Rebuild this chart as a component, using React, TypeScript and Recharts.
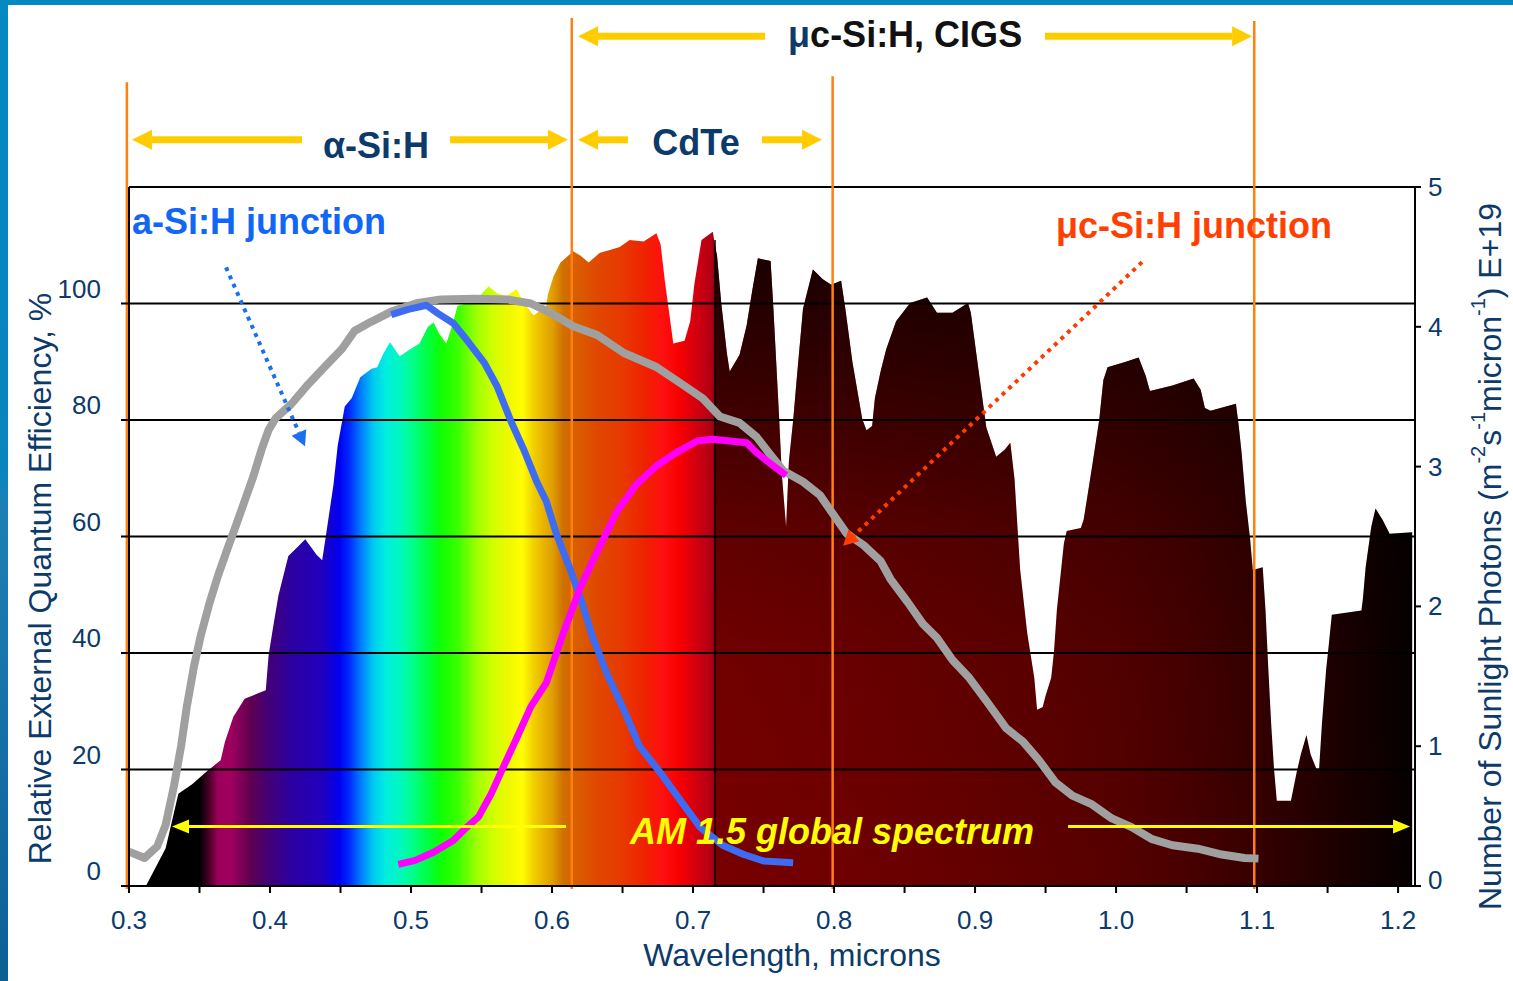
import React from 'react';
import { ComposedChart, Area, Line, XAxis, YAxis, ReferenceLine, ReferenceDot } from 'recharts';

// AM 1.5 global spectrum, photons E+19 (right axis)
const spectrumWl = [
  0.312, 0.326, 0.335, 0.345, 0.354, 0.365, 0.368, 0.374, 0.382, 0.392, 0.397, 0.399, 0.402, 0.406,
  0.413, 0.419, 0.425, 0.433, 0.437, 0.44, 0.445, 0.448, 0.453, 0.458, 0.464, 0.472, 0.476, 0.48,
  0.485, 0.492, 0.498, 0.506, 0.512, 0.516, 0.52, 0.525, 0.529, 0.533, 0.545, 0.555, 0.561, 0.568,
  0.575, 0.58, 0.587, 0.596, 0.597, 0.601, 0.606, 0.615, 0.62, 0.626, 0.634, 0.641, 0.648, 0.655,
  0.665, 0.674, 0.677, 0.68, 0.686, 0.694, 0.698, 0.701, 0.706, 0.714, 0.7156, 0.717, 0.72, 0.724,
  0.726, 0.733, 0.738, 0.742, 0.746, 0.755, 0.757, 0.761, 0.763, 0.766, 0.768, 0.771, 0.774, 0.778,
  0.785, 0.792, 0.798, 0.805, 0.808, 0.813, 0.82, 0.823, 0.827, 0.829, 0.833, 0.837, 0.844, 0.854,
  0.866, 0.873, 0.884, 0.895, 0.897, 0.903, 0.908, 0.915, 0.921, 0.925, 0.928, 0.93, 0.932, 0.937,
  0.942, 0.944, 0.948, 0.95, 0.954, 0.956, 0.958, 0.963, 0.965, 0.975, 0.977, 0.98, 0.983, 0.988,
  0.991, 0.994, 1.007, 1.016, 1.021, 1.024, 1.04, 1.055, 1.06, 1.063, 1.067, 1.085, 1.087, 1.089,
  1.092, 1.095, 1.097, 1.104, 1.106, 1.108, 1.11, 1.112, 1.114, 1.124, 1.128, 1.131, 1.135, 1.138,
  1.142, 1.144, 1.146, 1.149, 1.151, 1.153, 1.174, 1.175, 1.177, 1.181, 1.184, 1.189, 1.194, 1.21,
];
const spectrumFlux = [
  0, 0.27, 0.66, 0.73, 0.81, 0.9, 1.03, 1.21, 1.34, 1.38, 1.4, 1.65, 1.84, 2.08,
  2.36, 2.42, 2.48, 2.37, 2.33, 2.53, 2.87, 3.15, 3.43, 3.49, 3.64, 3.7, 3.71, 3.8,
  3.89, 3.79, 3.83, 3.88, 4.0, 4.03, 3.95, 3.88, 4.0, 4.15, 4.18, 4.29, 4.24, 4.22,
  4.27, 4.17, 4.08, 4.15, 4.23, 4.36, 4.46, 4.54, 4.51, 4.46, 4.53, 4.55, 4.57, 4.62,
  4.61, 4.67, 4.59, 4.33, 3.88, 3.9, 4.04, 4.31, 4.62, 4.68, 4.58, 4.51, 4.17, 3.81,
  3.68, 3.8, 4.01, 4.26, 4.49, 4.47, 4.13, 3.36, 2.94, 2.57, 3.04, 3.33, 3.68, 4.13,
  4.41, 4.34, 4.3, 4.33, 4.13, 3.75, 3.34, 3.26, 3.29, 3.49, 3.68, 3.84, 4.04, 4.17,
  4.21, 4.1, 4.1, 4.17, 4.1, 3.65, 3.28, 3.07, 3.12, 3.17, 2.91, 2.58, 2.26, 1.81,
  1.49, 1.26, 1.28, 1.36, 1.49, 1.68, 1.97, 2.45, 2.54, 2.56, 2.62, 2.81, 3.0, 3.33,
  3.62, 3.71, 3.75, 3.78, 3.65, 3.54, 3.58, 3.63, 3.55, 3.42, 3.4, 3.45, 3.29, 3.1,
  2.75, 2.49, 2.26, 2.28, 1.97, 1.55, 1.16, 0.84, 0.61, 0.61, 0.81, 0.94, 1.08, 0.94,
  0.84, 0.84, 1.16, 1.55, 1.74, 1.94, 1.97, 2.05, 2.28, 2.57, 2.7, 2.62, 2.52, 2.53,
];

// overall relative EQE, % (gray)
const totalWl = [
  0.3, 0.311, 0.32, 0.326, 0.332, 0.337, 0.341, 0.346, 0.351, 0.357, 0.363, 0.37, 0.376, 0.382,
  0.388, 0.394, 0.399, 0.404, 0.415, 0.427, 0.439, 0.451, 0.46, 0.472, 0.486, 0.505, 0.521, 0.545,
  0.568, 0.585, 0.599, 0.615, 0.632, 0.651, 0.674, 0.693, 0.707, 0.719, 0.733, 0.745, 0.755, 0.764,
  0.778, 0.79, 0.8, 0.809, 0.821, 0.833, 0.84, 0.852, 0.863, 0.873, 0.884, 0.896, 0.908, 0.922,
  0.934, 0.945, 0.957, 0.969, 0.983, 0.997, 1.011, 1.025, 1.04, 1.058, 1.075, 1.091, 1.101,
];
const totalEqe = [
  5.9, 4.8, 6.8, 10.5, 17.3, 24.1, 30.8, 37.6, 43.1, 48.5, 53.2, 58, 62, 66.1,
  70.2, 74.9, 78.3, 80.3, 82.7, 86.1, 89.2, 92.2, 95.3, 96.9, 98.6, 100.1, 100.7, 100.8,
  100.7, 100, 98.4, 96.1, 94.6, 91.5, 89.1, 86, 83.7, 80.6, 79.5, 77.1, 74, 71.3,
  69.4, 67.1, 63.6, 60.5, 58.5, 55.8, 52.7, 48.8, 45, 42.6, 38.8, 35.7, 31.8, 27.1,
  24.8, 21.7, 17.8, 15.5, 14, 11.6, 10.1, 8.1, 7, 6.4, 5.4, 4.8, 4.7,
];

// a-Si:H junction (blue)
const aSiWl = [
  0.486, 0.498, 0.511, 0.519, 0.53, 0.54, 0.552, 0.561, 0.571, 0.58, 0.589, 0.596, 0.603, 0.613,
  0.62, 0.629, 0.639, 0.651, 0.662, 0.677, 0.691, 0.705, 0.721, 0.736, 0.75, 0.771,
];
const aSiEqe = [
  98.1, 99, 99.7, 98.3, 96.6, 93.6, 89.8, 85.8, 79.7, 74.9, 69.5, 66, 60.5, 54.3,
  49.6, 42.6, 36.4, 30.2, 24, 19.4, 14.7, 10.1, 7, 5.4, 4.3, 4,
];

// uc-Si:H junction (magenta)
const ucSiWl = [
  0.491, 0.503, 0.516, 0.53, 0.54, 0.548, 0.557, 0.566, 0.575, 0.585, 0.596, 0.608, 0.62, 0.632,
  0.646, 0.66, 0.674, 0.688, 0.703, 0.714, 0.738, 0.745, 0.755, 0.766,
];
const ucSiEqe = [
  3.7, 4.4, 5.8, 7.8, 10.2, 11.9, 15.9, 20.7, 25.4, 30.8, 34.9, 43.4, 51.2, 57.4,
  64.3, 69, 72.1, 74.4, 76.4, 76.7, 76.1, 74.4, 72.5, 70.5,
];

const xTicks = [0.3, 0.35, 0.4, 0.45, 0.5, 0.55, 0.6, 0.65, 0.7, 0.75, 0.8, 0.85, 0.9, 0.95, 1.0, 1.05, 1.1, 1.15, 1.2];
const eqeTicks = [0, 20, 40, 60, 80, 100];
const photonTicks = [0, 1, 2, 3, 4, 5];
const gridLevels = [20, 40, 60, 80, 100, 120];

// absorber band limits (microns) and how high their marker lines reach
const bandEdges = [0.2985, 0.614, 0.799, 1.098];
const bandTops = [138, 149, 139, 148.5];

// colour of the spectrum at each wavelength
const spectrumColors: [number, string][] = [
  [0.312, '#000000'], [0.35, '#000000'], [0.356, '#400020'], [0.363, '#9a005a'], [0.372, '#a00060'],
  [0.386, '#600050'], [0.398, '#440074'], [0.415, '#2c00a0'], [0.438, '#2000c0'], [0.449, '#0000f0'],
  [0.456, '#0028ff'], [0.464, '#0078ff'], [0.473, '#00c8f0'], [0.482, '#00eee0'], [0.492, '#00f8c0'],
  [0.5, '#00ff90'], [0.512, '#00ff40'], [0.522, '#10ff00'], [0.534, '#40ff00'], [0.547, '#a0ff00'],
  [0.558, '#d0ff00'], [0.57, '#f0f800'], [0.579, '#ffff00'], [0.587, '#f0d000'], [0.595, '#e8b000'],
  [0.6, '#e0a000'], [0.608, '#d07000'], [0.616, '#d86000'], [0.632, '#e04800'], [0.651, '#e83800'],
  [0.667, '#f02000'], [0.678, '#ff1010'], [0.69, '#f80000'], [0.703, '#d00010'], [0.713, '#b00014'],
  [0.7155, '#900008'], [0.7165, '#780000'], [0.8, '#700000'], [0.9, '#640000'], [1.0, '#560000'],
  [1.05, '#480000'], [1.1, '#360000'], [1.15, '#200000'], [1.21, '#050000'],
];

const NAVY = '#0c3a6b';
const FONT = '"Liberation Sans", Arial, sans-serif';

const pts = (xs: number[], ys: number[]) => xs.map((x, i) => ({ x, y: ys[i] }));
const spectrumData = pts(spectrumWl, spectrumFlux);
const nirData = spectrumData.filter((d) => d.x >= 0.7156);
const wlMin = spectrumWl[0];
const wlMax = spectrumWl[spectrumWl.length - 1];

const arrowShape =
  (color: string, width: number, head: number, half: number, dash?: string) => (p: any) => {
    const { x1, y1, x2, y2 } = p;
    const len = Math.hypot(x2 - x1, y2 - y1) || 1;
    const ux = (x2 - x1) / len;
    const uy = (y2 - y1) / len;
    const bx = x2 - ux * head;
    const by = y2 - uy * head;
    return (
      <g>
        <line x1={x1} y1={y1} x2={bx} y2={by} stroke={color} strokeWidth={width} strokeDasharray={dash} />
        <polygon
          points={`${x2},${y2} ${bx - uy * half},${by + ux * half} ${bx + uy * half},${by - ux * half}`}
          fill={color}
        />
      </g>
    );
  };

const textShape =
  (content: React.ReactNode, anchor: 'start' | 'middle', color: string, extra: any = {}) => (p: any) =>
    (
      <text
        x={p.cx}
        y={p.cy}
        textAnchor={anchor}
        dominantBaseline="central"
        fill={color}
        fontFamily={FONT}
        fontWeight="bold"
        fontSize={36}
        {...extra}
      >
        {content}
      </text>
    );

const bigArrow = arrowShape('#ffcc00', 7, 20, 10);
const thinArrow = arrowShape('#ffff00', 3, 17, 7);

const arrows = [
  { from: [0.4227, 128.1], to: [0.3021, 128.1], shape: bigArrow },
  { from: [0.5277, 128.1], to: [0.6113, 128.1], shape: bigArrow },
  { from: [0.6539, 128.1], to: [0.6184, 128.1], shape: bigArrow },
  { from: [0.7489, 128.1], to: [0.7915, 128.1], shape: bigArrow },
  { from: [0.7511, 145.9], to: [0.6184, 145.9], shape: bigArrow },
  { from: [0.9496, 145.9], to: [1.0965, 145.9], shape: bigArrow },
  { from: [0.6099, 10.2], to: [0.3305, 10.2], shape: thinArrow },
  { from: [0.966, 10.2], to: [1.2085, 10.2], shape: thinArrow },
  { from: [0.3688, 106.2], to: [0.4248, 75.5], shape: arrowShape('#1a6ff0', 4, 15, 8, '4 5') },
  { from: [1.0184, 107.1], to: [0.8064, 58.4], shape: arrowShape('#ff3c00', 4, 15, 8, '4 5') },
];

const LeftTick = (p: any) => (
  <text x={p.x} y={p.y - 15} textAnchor="end" dominantBaseline="central" fill={NAVY} fontSize={26} fontFamily={FONT}>
    {p.payload.value}
  </text>
);

const RightTick = (p: any) => (
  <text
    x={p.x}
    y={p.y - (p.payload.value === 0 ? 6 : 0)}
    textAnchor="start"
    dominantBaseline="central"
    fill={NAVY}
    fontSize={26}
    fontFamily={FONT}
  >
    {p.payload.value}
  </text>
);

const XTitle = (p: any) => {
  const vb = p.viewBox;
  return (
    <text x={vb.x + vb.width / 2 + 20} y={vb.y + 69} textAnchor="middle" dominantBaseline="central" fill={NAVY} fontSize={32} fontFamily={FONT}>
      Wavelength, microns
    </text>
  );
};

const LeftTitle = (p: any) => {
  const vb = p.viewBox;
  const cx = vb.x - 19;
  const cy = vb.y + vb.height / 2 + 42;
  return (
    <text x={cx} y={cy} transform={`rotate(-90, ${cx}, ${cy})`} textAnchor="middle" dominantBaseline="central" fill={NAVY} fontSize={32} fontFamily={FONT}>
      Relative External Quantum Efficiency, %
    </text>
  );
};

const RightTitle = (p: any) => {
  const vb = p.viewBox;
  const cx = vb.x + 75;
  const cy = vb.y + vb.height / 2 + 20;
  return (
    <text x={cx} y={cy} transform={`rotate(-90, ${cx}, ${cy})`} textAnchor="middle" dominantBaseline="central" fill={NAVY} fontSize={32} fontFamily={FONT}>
      Number of Sunlight Photons (m
      <tspan dy={-12} fontSize={20}>-2</tspan>
      <tspan dy={12}>s</tspan>
      <tspan dy={-12} fontSize={20}>-1</tspan>
      <tspan dy={12}>micron</tspan>
      <tspan dy={-12} fontSize={20}>-1</tspan>
      <tspan dy={12}>) E+19</tspan>
    </text>
  );
};

export default function App() {
  return (
    <div style={{ position: 'absolute', left: 0, top: 0, width: 1513, height: 981, background: '#fff', overflow: 'hidden' }}>
      <div style={{ position: 'absolute', left: 0, top: 0, width: 1513, height: 5, background: '#0388c1' }} />
      <div
        style={{
          position: 'absolute',
          left: 0,
          top: 0,
          width: 8,
          height: 981,
          background: 'linear-gradient(#0388c1, #0a84bd 48%, #1c80b4 52%, #0d5f94)',
        }}
      />
      <ComposedChart width={1513} height={981} margin={{ top: 187, right: 38, bottom: 45, left: 59 }}>
        <defs>
          <linearGradient id="rainbow" x1="0" y1="0" x2="1" y2="0">
            {spectrumColors.map(([wl, c]) => (
              <stop key={wl} offset={(wl - wlMin) / (wlMax - wlMin)} stopColor={c} />
            ))}
          </linearGradient>
          <linearGradient id="shade" x1="0" y1="0" x2="0" y2="1">
            <stop offset={0} stopColor="#000" stopOpacity={0.8} />
            <stop offset={0.2} stopColor="#000" stopOpacity={0.55} />
            <stop offset={0.45} stopColor="#000" stopOpacity={0.2} />
            <stop offset={0.65} stopColor="#000" stopOpacity={0.06} />
            <stop offset={1} stopColor="#000" stopOpacity={0} />
          </linearGradient>
        </defs>
        <XAxis
          type="number"
          dataKey="x"
          domain={[0.3, 1.212]}
          ticks={xTicks}
          interval={0}
          height={50}
          tickFormatter={(v: number) => (Math.round(v * 100) % 10 === 0 ? v.toFixed(1) : '')}
          tick={{ fill: NAVY, fontSize: 26, fontFamily: FONT }}
          tickSize={7}
          tickMargin={18}
          axisLine={{ stroke: '#000', strokeWidth: 2 }}
          tickLine={{ stroke: '#000', strokeWidth: 2 }}
          label={XTitle}
        />
        <YAxis
          yAxisId="left"
          domain={[0, 120]}
          ticks={eqeTicks}
          width={70}
          tick={LeftTick}
          tickSize={8}
          tickMargin={20}
          axisLine={{ stroke: '#000', strokeWidth: 2 }}
          tickLine={{ stroke: '#000', strokeWidth: 2 }}
          label={LeftTitle}
        />
        <YAxis
          yAxisId="right"
          orientation="right"
          domain={[0, 5]}
          ticks={photonTicks}
          width={60}
          tick={RightTick}
          tickSize={6}
          tickMargin={7}
          axisLine={{ stroke: '#000', strokeWidth: 2 }}
          tickLine={{ stroke: '#000', strokeWidth: 2 }}
          label={RightTitle}
        />
        <Area
          yAxisId="right"
          data={spectrumData}
          dataKey="y"
          type="linear"
          fill="url(#rainbow)"
          fillOpacity={1}
          stroke="none"
          isAnimationActive={false}
          zIndex={100}
        />
        <Area
          yAxisId="right"
          data={nirData}
          dataKey="y"
          type="linear"
          fill="url(#shade)"
          fillOpacity={1}
          stroke="none"
          isAnimationActive={false}
          zIndex={101}
        />
        <ReferenceLine
          yAxisId="right"
          segment={[{ x: 0.7156, y: 0 }, { x: 0.7156, y: 4.62 }]}
          stroke="#000"
          strokeWidth={1.5}
          zIndex={110}
        />
        {gridLevels.map((g) => (
          <ReferenceLine key={g} yAxisId="left" y={g} stroke="#000" strokeWidth={2} zIndex={120} />
        ))}
        {bandEdges.map((b, i) => (
          <ReferenceLine
            key={b}
            yAxisId="left"
            segment={[{ x: b, y: -0.5 }, { x: b, y: bandTops[i] }]}
            ifOverflow="visible"
            stroke="#ff8010"
            strokeWidth={2.5}
            zIndex={130}
          />
        ))}
        <Line
          yAxisId="left"
          data={pts(totalWl, totalEqe)}
          dataKey="y"
          type="linear"
          stroke="#a0a0a0"
          strokeWidth={8}
          strokeLinejoin="round"
          dot={false}
          activeDot={false}
          isAnimationActive={false}
          zIndex={400}
        />
        <Line
          yAxisId="left"
          data={pts(aSiWl, aSiEqe)}
          dataKey="y"
          type="linear"
          stroke="#3d6cf2"
          strokeWidth={7}
          strokeLinejoin="round"
          dot={false}
          activeDot={false}
          isAnimationActive={false}
          zIndex={401}
        />
        <Line
          yAxisId="left"
          data={pts(ucSiWl, ucSiEqe)}
          dataKey="y"
          type="linear"
          stroke="#ff00ff"
          strokeWidth={7}
          strokeLinejoin="round"
          dot={false}
          activeDot={false}
          isAnimationActive={false}
          zIndex={402}
        />
        {arrows.map((a, i) => (
          <ReferenceLine
            key={i}
            yAxisId="left"
            segment={[{ x: a.from[0], y: a.from[1] }, { x: a.to[0], y: a.to[1] }]}
            ifOverflow="visible"
            shape={a.shape}
            zIndex={500}
          />
        ))}
        <ReferenceDot yAxisId="left" x={0.4752} y={127.2} r={0} ifOverflow="visible" shape={textShape('α-Si:H', 'middle', NAVY)} zIndex={2000} />
        <ReferenceDot yAxisId="left" x={0.7021} y={127.6} r={0} ifOverflow="visible" shape={textShape('CdTe', 'middle', NAVY)} zIndex={2000} />
        <ReferenceDot
          yAxisId="left"
          x={0.8504}
          y={146.2}
          r={0}
          ifOverflow="visible"
          shape={textShape(
            <>
              <tspan fill={NAVY}>μ</tspan>
              <tspan fill="#111">c-Si:H, CIGS</tspan>
            </>,
            'middle',
            '#111',
          )}
          zIndex={2000}
        />
        <ReferenceDot yAxisId="left" x={0.3021} y={114} r={0} ifOverflow="visible" shape={textShape('a-Si:H junction', 'start', '#1166f5')} zIndex={2000} />
        <ReferenceDot yAxisId="left" x={0.9574} y={113.4} r={0} ifOverflow="visible" shape={textShape('μc-Si:H junction', 'start', '#ff4000')} zIndex={2000} />
        <ReferenceDot
          yAxisId="left"
          x={0.7986}
          y={9.3}
          r={0}
          ifOverflow="visible"
          shape={textShape('AM 1.5 global spectrum', 'middle', '#ffff00', { fontStyle: 'italic' })}
          zIndex={2000}
        />
      </ComposedChart>
    </div>
  );
}
